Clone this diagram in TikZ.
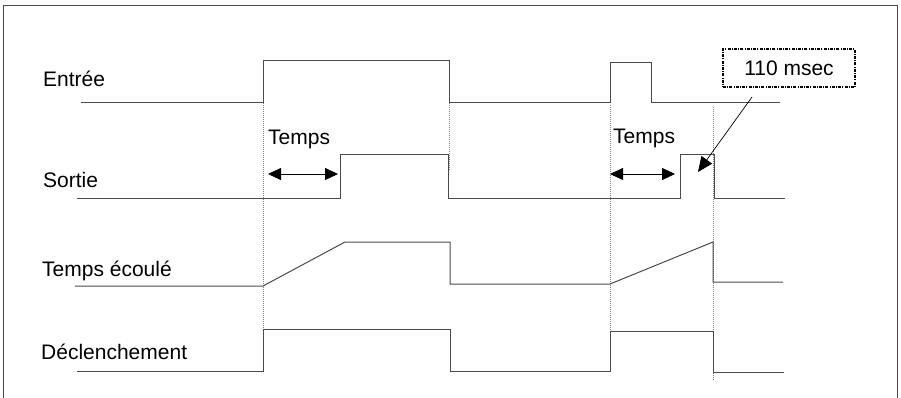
\documentclass[tikz,border=0pt]{standalone}
\usepackage{fontspec}
\setmainfont{Liberation Sans}
\usepackage{tikz}
\usepackage{xcolor}
\usetikzlibrary{arrows.meta}
\definecolor{trace}{HTML}{4A4A4A}
\definecolor{guidegrey}{HTML}{808080}
\tikzset{
  % Signal name at the left of each trace
  lbl/.style={anchor=base west, inner sep=0pt, font=\fontsize{21}{25}\selectfont},
  % A logic / analogue trace
  sig/.style={draw=trace, line width=1pt, line join=miter},
  % Thin dotted alignment line
  guide/.style={draw=guidegrey, line width=0.7pt, dash pattern=on 1pt off 1pt},
  % Delay span with heads on both ends
  span/.style={{Triangle[length=13pt,width=12pt]}-{Triangle[length=13pt,width=12pt]},
    draw=black, line width=0.8pt},
  % Call-out box and its pointer
  note/.style={draw=black, line width=1.3pt, dash pattern=on 3pt off 1.2pt on 1pt off 1.2pt,
    minimum width=132pt, minimum height=38pt, inner sep=0pt,
    font=\fontsize{21}{25}\selectfont},
  pointer/.style={-{Triangle[length=15pt,width=13pt]}, draw=black, line width=0.7pt},
  frame/.style={draw=trace, line width=1pt},
}
\begin{document}
\begin{tikzpicture}[x=1pt, y=-1pt]

  \useasboundingbox (0,0) rectangle (901,398);
  \draw[frame] (3,398) -- (3,6) -- (897,6) -- (897,398);

  % names of the traces
  \node[lbl] (in)      at (43,87)  {Entrée};
  \node[lbl] (out)     at (43,187) {Sortie};
  \node[lbl] (elapsed) at (42,276) {Temps écoulé};
  \node[lbl] (trip)    at (41,359) {Déclenchement};

  % alignment lines
  \draw[guide] (263,97)  -- (263,373);
  \draw[guide] (449,103) -- (449,170);
  \draw[guide] (610,105) -- (610,331);
  \draw[guide] (713,107) -- (713,380);

  % traces
  \draw[sig] (81,103) -- (263,103) -- (263,61) -- (449,61) -- (449,103)
    -- (610,103) -- (610,63) -- (651,63) -- (651,103) -- (780,103);
  \draw[sig] (77,198) -- (340,198) -- (340,155) -- (448,155) -- (448,198)
    -- (680,198) -- (680,155) -- (714,155) -- (714,198) -- (785,198);
  \draw[sig] (75,286) -- (263,286) -- (345,242) -- (450,242) -- (450,284)
    -- (610,284) -- (713,242) -- (713,282) -- (783,282);
  \draw[sig] (77,371) -- (263,371) -- (263,329) -- (450,329) -- (450,371)
    -- (610,371) -- (610,331) -- (713,331) -- (713,372) -- (784,372);

  % delay spans
  \node[lbl] (t1) at (268,145) {Temps};
  \node[lbl] (t2) at (613,144) {Temps};
  \coordinate (t1a) at (268,174);
  \coordinate (t1b) at (338,174);
  \coordinate (t2a) at (610,174);
  \coordinate (t2b) at (675,174);
  \draw[span] (t1a) -- (t1b);
  \draw[span] (t2a) -- (t2b);

  % call-out
  \node[note] (msec) at (789,68) {110 msec};
  \coordinate (msecfrom) at (752,97);
  \coordinate (msecto)   at (698,172);
  \draw[pointer] (msecfrom) -- (msecto);

\end{tikzpicture}
\end{document}
